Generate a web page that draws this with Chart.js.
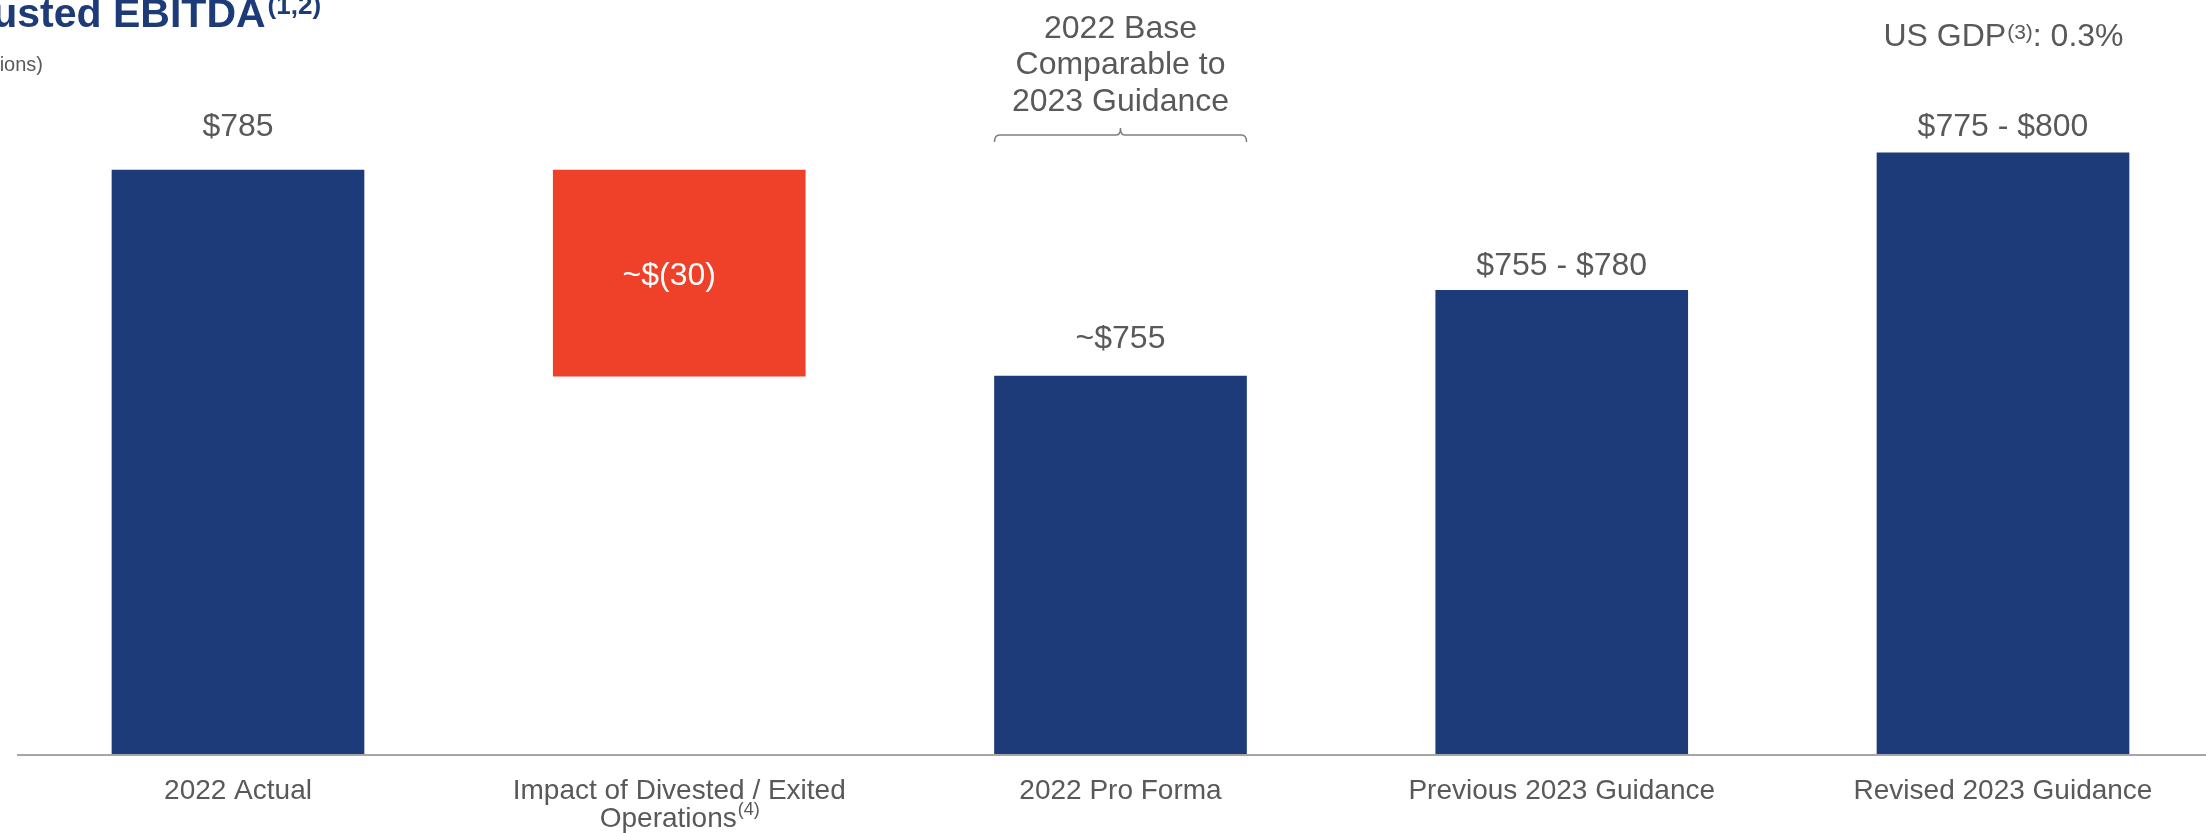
<!DOCTYPE html>
<html>
<head>
<meta charset="utf-8">
<title>Adjusted EBITDA</title>
<script src="https://cdn.jsdelivr.net/npm/chart.js@4.4.1/dist/chart.umd.min.js"></script>
<style>
  html, body { margin: 0; padding: 0; background: #fff; overflow: hidden; }
  #wrap { width: 2206px; height: 833px; }
</style>
</head>
<body>
<div id="wrap"><canvas id="ebitdaChart" width="2206" height="833"></canvas></div>
<script>
/*
 * Adjusted EBITDA bridge - 2022 actual to revised 2023 guidance
 */

const categories = [
    ['2022 Actual'],
    ['Impact of Divested / Exited', 'Operations'],
    ['2022 Pro Forma'],
    ['Previous 2023 Guidance'],
    ['Revised 2023 Guidance']
];
const categoryNotes = ['', '(4)', '', '', ''];

// guidance bars sit at the middle of their range
const barValues = [785, [755, 785], 755, 767.5, 787.5];
const valueLabels = ['$785', '~$(30)', '~$755', '$755 - $780', '$775 - $800'];

const yMin = 700;
const yMax = 800;

const FONT = '"Liberation Sans", Arial, sans-serif';
const GREY = '#595959';
const NAVY = '#1C3B78';
const RED = '#EF4129';


const App = (function() {

    const font = function(size, bold) {
        return (bold ? 'bold ' : '') + size + 'px ' + FONT;
    };

    // centered text with a raised footnote marker after it
    const supText = function(ctx, text, sup, after, cx, y, size, supSize, rise) {
        ctx.font = font(size);
        const w1 = ctx.measureText(text).width;
        const w3 = ctx.measureText(after).width;
        ctx.font = font(supSize);
        const w2 = sup ? ctx.measureText(sup).width : 0;
        let x = cx - (w1 + w2 + w3) / 2;
        ctx.textAlign = 'left';
        ctx.textBaseline = 'middle';
        ctx.font = font(size);
        ctx.fillText(text, x, y);
        x += w1;
        if (sup) {
            ctx.font = font(supSize);
            ctx.fillText(sup, x + 1, y - rise);
            x += w2 + 1;
        }
        ctx.font = font(size);
        ctx.fillText(after, x, y);
    };

    const labelGap = [43, 0, 37, 24, 26];

    const annotations = {
        id: 'annotations',
        afterDatasetsDraw(chart) {
            const ctx = chart.ctx;
            const bars = chart.getDatasetMeta(0).data;
            const base = chart.scales.y.getPixelForValue(yMin);

            ctx.save();

            // axis line
            ctx.strokeStyle = '#A6A6A6';
            ctx.lineWidth = 2;
            ctx.beginPath();
            ctx.moveTo(17, base + 1);
            ctx.lineTo(chart.width, base + 1);
            ctx.stroke();

            // value labels
            ctx.fillStyle = GREY;
            ctx.textAlign = 'center';
            ctx.textBaseline = 'middle';
            ctx.font = font(32);
            bars.forEach(function(bar, i) {
                if (i === 1) {
                    ctx.fillStyle = '#FFFFFF';
                    ctx.fillText(valueLabels[i], bar.x - 10, (bar.y + bar.base) / 2 + 3);
                    ctx.fillStyle = GREY;
                } else {
                    ctx.fillText(valueLabels[i], bar.x, bar.y - labelGap[i]);
                }
            });

            // category labels
            bars.forEach(function(bar, i) {
                const lines = categories[i];
                lines.forEach(function(line, j) {
                    const last = j === lines.length - 1;
                    supText(ctx, line, last ? categoryNotes[i] : '', '', bar.x, 791 + j * 28, 28, 18, 9);
                });
            });

            // bracket over the pro forma bar
            const pf = bars[2];
            const l = pf.x - pf.width / 2, r = pf.x + pf.width / 2;
            ctx.strokeStyle = '#7F7F7F';
            ctx.lineWidth = 1.5;
            ctx.beginPath();
            ctx.moveTo(l, 142);
            ctx.quadraticCurveTo(l, 135, l + 5, 135);
            ctx.lineTo(pf.x - 4, 135);
            ctx.quadraticCurveTo(pf.x, 135, pf.x, 128);
            ctx.quadraticCurveTo(pf.x, 135, pf.x + 4, 135);
            ctx.lineTo(r - 5, 135);
            ctx.quadraticCurveTo(r, 135, r, 142);
            ctx.stroke();

            ctx.fillStyle = GREY;
            ctx.textAlign = 'center';
            ctx.textBaseline = 'middle';
            ctx.font = font(32);
            ['2022 Base', 'Comparable to', '2023 Guidance'].forEach(function(t, k) {
                ctx.fillText(t, pf.x, 29 + k * 36.5);
            });

            // GDP note over revised guidance
            supText(ctx, 'US GDP', '(3)', ': 0.3%', bars[4].x, 37, 32, 21, 4);

            // title, cut off at the left edge like the slide
            ctx.fillStyle = NAVY;
            ctx.font = font(41, true);
            ctx.textAlign = 'left';
            ctx.textBaseline = 'alphabetic';
            const tx = 113 - ctx.measureText('Adjusted ').width;
            ctx.fillText('Adjusted EBITDA', tx, 27);
            const tw = ctx.measureText('Adjusted EBITDA').width;
            ctx.font = font(26, true);
            ctx.fillText('(1,2)', tx + tw + 2, 14);

            ctx.fillStyle = GREY;
            ctx.font = font(20);
            ctx.textAlign = 'right';
            ctx.fillText('(in $ millions)', 43, 71);

            ctx.restore();
        }
    };

    const chart = function() {
        const ctx = document.getElementById('ebitdaChart');

        new Chart(ctx, {
            type: 'bar',
            data: {
                labels: categories,
                datasets: [{
                    data: barValues,
                    base: yMin,
                    backgroundColor: function(c) {
                        return c.dataIndex === 1 ? RED : NAVY;
                    },
                    borderWidth: 0,
                    barThickness: 252,
                    clip: false
                }]
            },
            options: {
                responsive: false,
                animation: false,
                layout: {
                    padding: { left: 238, right: 203, top: 67, bottom: 79 }
                },
                plugins: {
                    legend: { display: false },
                    tooltip: { enabled: false }
                },
                scales: {
                    x: { display: false, offset: false },
                    y: { display: false, min: yMin, max: yMax }
                }
            },
            plugins: [annotations]
        });
    };

    const init = function() {
        chart();
    };

    return {
        init: init
    };

})();

App.init();
</script>
</body>
</html>
